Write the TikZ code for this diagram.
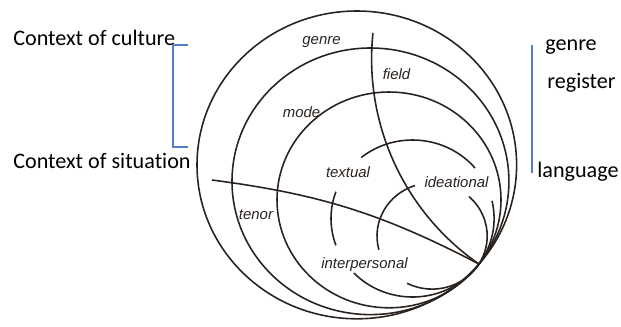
\documentclass[tikz,border=0pt]{standalone}
\usepackage{fontspec}
\setmainfont{Carlito}[Ligatures=NoCommon]
\newfontfamily\diagfont{Liberation Sans}[Ligatures=NoCommon]
\usetikzlibrary{calc}
\definecolor{ink}{RGB}{42,34,30}
\definecolor{brkblue}{RGB}{84,125,204}
\tikzset{
  ring/.style={draw=ink,line width=0.9pt},
  ringlbl/.style={font=\diagfont\itshape\fontsize{8.5}{10}\selectfont,
    text=ink,inner sep=1pt},
  sidelbl/.style={font=\fontsize{12.6}{15}\selectfont,anchor=base west,
    inner sep=0pt},
  brk/.style={draw=brkblue,line width=0.6pt},
}

\begin{document}
\begin{tikzpicture}[x=0.02cm,y=0.02cm]
  \useasboundingbox (0,0) rectangle (621,326);
  % touching point and centres of the rings
  \coordinate (T) at (479,62);
  \foreach \n/\cx/\cy in {1/356.8/161.1,2/370.45/144.7,3/389/126.1,
                          4/412.55/107.5,5/432.1/90}{
    \coordinate (c\n) at (\cx,\cy);
  }
  % genre, register and the outer language ring
  \foreach \n/\rx/\ry in {1/159.8/153.9,2/138.45/133.3,3/112/107.9}{
    \draw[ring] (c\n) ellipse[x radius=\rx,y radius=\ry];
  }
  % metafunction rings, left open for the labels
  \foreach \a/\b in {40/129,160/200,224/373}{
    \draw[ring] ($(c4)+(\a:81.55 and 78.5)$)
      arc[start angle=\a,end angle=\b,x radius=81.55,y radius=78.5];
  }
  \foreach \a/\b in {108/195,243/408}{
    \draw[ring] ($(c5)+(\a:55.1 and 53.1)$)
      arc[start angle=\a,end angle=\b,x radius=55.1,y radius=53.1];
  }
  % field and tenor dividers
  \coordinate (fc) at (621.1,267);
  \draw[ring] ($(fc)+(174:249.5)$) arc[start angle=174,end angle=235.3,radius=249.5];
  \coordinate (tn) at (212,146);
  \draw[ring] (tn) to[bend left=10] (T);

  \node[ringlbl] (genrelbl) at (321.5,284) {genre};
  \node[ringlbl] (fieldlbl) at (396.5,252) {field};
  \node[ringlbl] (modelbl) at (301.5,214) {mode};
  \node[ringlbl] (tenorlbl) at (256,111) {tenor};
  \node[ringlbl] (textlbl) at (348,154) {textual};
  \node[ringlbl] (idealbl) at (456.5,144) {ideational};
  \node[ringlbl] (interlbl) at (364.5,61) {interpersonal};

  % notes at the sides
  \node[sidelbl] (culture) at (13,281) {Context of culture};
  \node[sidelbl] (situation) at (13,158) {Context of situation};
  \node[sidelbl] (genre) at (545,276) {genre};
  \node[sidelbl] (register) at (547,238) {register};
  \node[sidelbl] (language) at (537,149) {language};
  \draw[brk] (188,281) -| (173,179) -- (188,179);
  \draw[brk] (532,281) -- (532,153);
\end{tikzpicture}
\end{document}
